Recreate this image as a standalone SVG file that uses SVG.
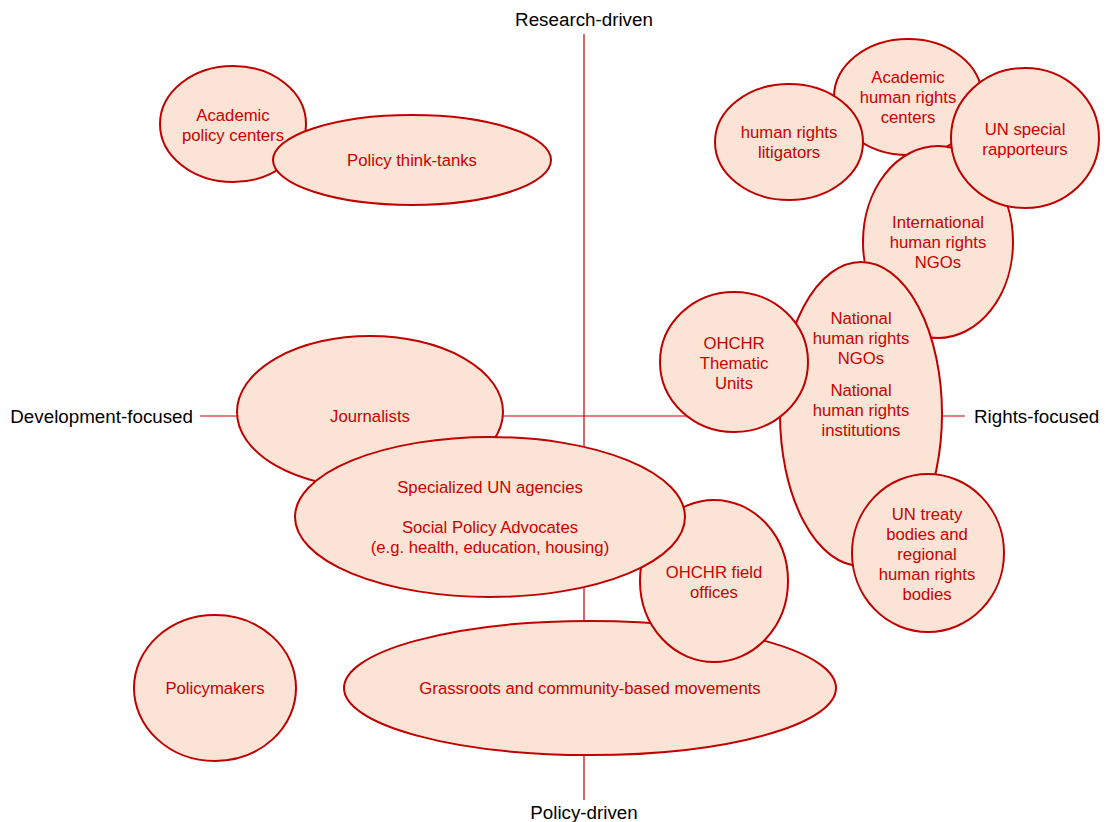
<svg xmlns="http://www.w3.org/2000/svg" width="1106" height="822" viewBox="0 0 1106 822">
<style>
.n{fill:#FBE4D6;stroke:#C00000;stroke-width:2}
.t{font-family:"Liberation Sans",Arial,sans-serif;font-size:16.7px;fill:#CC0000;text-anchor:middle}
.ax{font-family:"Liberation Sans",Arial,sans-serif;font-size:18.8px;fill:#000}
.axis{stroke:#C00000;stroke-width:1.2;fill:none}
</style>
<rect width="1106" height="822" fill="#fff"/>
<g id="axes">
<line class="axis" x1="584" y1="34" x2="584" y2="800"/>
<line class="axis" x1="200" y1="416" x2="965" y2="416"/>
<text class="ax" x="584" y="26" text-anchor="middle">Research-driven</text>
<text class="ax" x="584" y="819" text-anchor="middle">Policy-driven</text>
<text class="ax" x="193" y="423" text-anchor="end">Development-focused</text>
<text class="ax" x="974" y="423">Rights-focused</text>
</g>
<g id="academic-policy-centers"><ellipse class="n" cx="233" cy="124" rx="73" ry="58"/><text class="t" x="233" y="121">Academic</text><text class="t" x="233" y="141">policy centers</text></g>
<g id="policy-think-tanks"><ellipse class="n" cx="412" cy="160" rx="139" ry="45"/><text class="t" x="412" y="166">Policy think-tanks</text></g>
<g id="academic-hr-centers"><ellipse class="n" cx="908" cy="97" rx="74" ry="58"/><text class="t" x="908" y="83">Academic</text><text class="t" x="908" y="103">human rights</text><text class="t" x="908" y="123">centers</text></g>
<g id="hr-litigators"><ellipse class="n" cx="789" cy="142" rx="74" ry="58"/><text class="t" x="789" y="138">human rights</text><text class="t" x="789" y="158">litigators</text></g>
<g id="intl-hr-ngos"><ellipse class="n" cx="938" cy="242" rx="75" ry="96"/><text class="t" x="938" y="228">International</text><text class="t" x="938" y="248">human rights</text><text class="t" x="938" y="268">NGOs</text></g>
<g id="un-special-rapporteurs"><ellipse class="n" cx="1025" cy="138" rx="74" ry="70"/><text class="t" x="1025" y="135">UN special</text><text class="t" x="1025" y="155">rapporteurs</text></g>
<g id="national-hr"><ellipse class="n" cx="861" cy="414" rx="81" ry="152"/><text class="t" x="861" y="324">National</text><text class="t" x="861" y="344">human rights</text><text class="t" x="861" y="364">NGOs</text><text class="t" x="861" y="396">National</text><text class="t" x="861" y="416">human rights</text><text class="t" x="861" y="436">institutions</text></g>
<g id="ohchr-thematic"><ellipse class="n" cx="734" cy="362" rx="74" ry="70"/><text class="t" x="734" y="349">OHCHR</text><text class="t" x="734" y="369">Thematic</text><text class="t" x="734" y="389">Units</text></g>
<g id="un-treaty-bodies"><ellipse class="n" cx="928" cy="553" rx="76" ry="79"/><text class="t" x="927" y="520">UN treaty</text><text class="t" x="927" y="540">bodies and</text><text class="t" x="927" y="560">regional</text><text class="t" x="927" y="580">human rights</text><text class="t" x="927" y="600">bodies</text></g>
<g id="journalists"><ellipse class="n" cx="370" cy="412" rx="133" ry="76"/><text class="t" x="370" y="422">Journalists</text></g>
<g id="grassroots"><ellipse class="n" cx="590" cy="688" rx="246" ry="67"/><text class="t" x="590" y="694">Grassroots and community-based movements</text></g>
<g id="ohchr-field"><ellipse class="n" cx="714" cy="581" rx="74" ry="81"/><text class="t" x="714" y="578">OHCHR field</text><text class="t" x="714" y="598">offices</text></g>
<g id="specialized-un"><ellipse class="n" cx="490" cy="517" rx="195" ry="80"/><text class="t" x="490" y="493">Specialized UN agencies</text><text class="t" x="490" y="533">Social Policy Advocates</text><text class="t" x="490" y="553">(e.g. health, education, housing)</text></g>
<g id="policymakers"><ellipse class="n" cx="215" cy="688" rx="81" ry="73"/><text class="t" x="215" y="694">Policymakers</text></g>
</svg>
